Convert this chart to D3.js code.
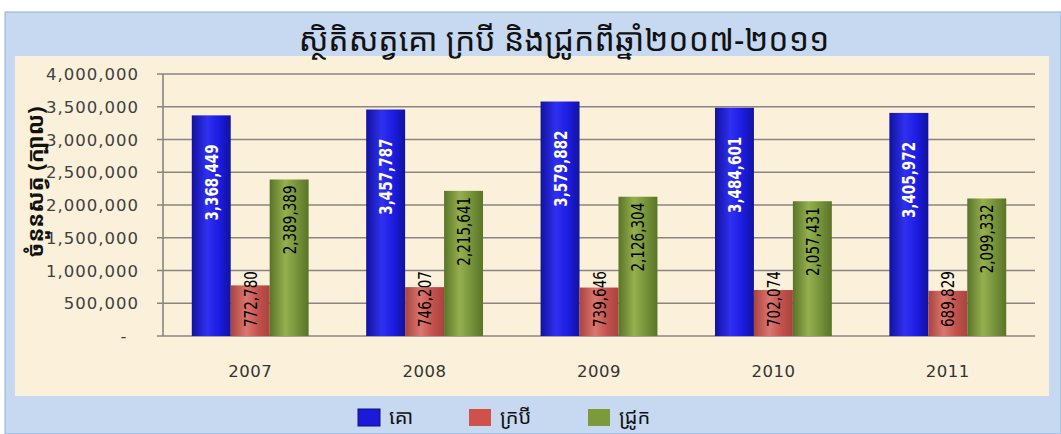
<!DOCTYPE html>
<html><head><meta charset="utf-8">
<script src="https://cdn.jsdelivr.net/npm/d3@7"></script>
<style>
html,body{margin:0;padding:0;background:#fff;}
svg{display:block;}
</style></head>
<body>
<svg id="chart" width="1061" height="434"></svg>
<script>
const title = "ស្ថិតិសត្វគោ ក្របី និងជ្រូកពីឆ្នាំ២០០៧-២០១១";
const yTitle = "ចំនួនសត្វ (ក្បាល)";
const years = ["2007","2008","2009","2010","2011"];
const seriesNames = ["គោ","ក្របី","ជ្រូក"];
const cattle = [3368449, 3457787, 3579882, 3484601, 3405972];
const buffalo = [772780, 746207, 739646, 702074, 689829];
const pigs = [2389389, 2215641, 2126304, 2057431, 2099332];
const yTicks = [0, 500000, 1000000, 1500000, 2000000, 2500000, 3000000, 3500000, 4000000];

const seriesValues = [cattle, buffalo, pigs];
const colors = [
  {edge:"#12129e", mid:"#3030f2", base:"#1c1ce2", legend:"#1a1ad8", text:"#ffffff"},
  {edge:"#a9433f", mid:"#dc7670", base:"#c4524d", legend:"#d0504a", text:"#000000"},
  {edge:"#5a7428", mid:"#94b04e", base:"#76933a", legend:"#7c9a3a", text:"#000000"}
];

const svg = d3.select("#chart");
const defs = svg.append("defs");
colors.forEach((c,i)=>{
  const g = defs.append("linearGradient").attr("id","grad"+i).attr("x1","0").attr("x2","1").attr("y1","0").attr("y2","0");
  g.append("stop").attr("offset","0%").attr("stop-color",c.edge);
  g.append("stop").attr("offset","40%").attr("stop-color",c.mid);
  g.append("stop").attr("offset","70%").attr("stop-color",c.base);
  g.append("stop").attr("offset","100%").attr("stop-color",c.edge);
});

// outer background
svg.append("rect").attr("x",5).attr("y",12).attr("width",1056).attr("height",422)
  .attr("fill","#c6d9f1").attr("stroke","#8eb0dc").attr("stroke-width",1);
// plot (cream) area
svg.append("rect").attr("x",15).attr("y",56).attr("width",1034).attr("height",340)
  .attr("fill","#fbf1da");

const x0 = d3.scaleBand().domain(years).range([163,1035]).paddingInner(0.33).paddingOuter(0.165);
const x1 = d3.scaleBand().domain(d3.range(3)).range([0,x0.bandwidth()]);
const y = d3.scaleLinear().domain([0,4000000]).range([336,74]);

// gridlines
svg.append("g").selectAll("line").data(yTicks).join("line")
  .attr("x1",157).attr("x2",1035)
  .attr("y1",d=>y(d)).attr("y2",d=>y(d))
  .attr("stroke","#8a8580").attr("stroke-width",1.6);
svg.append("line").attr("x1",163).attr("x2",163).attr("y1",y(4000000)).attr("y2",y(0))
  .attr("stroke","#8a8580").attr("stroke-width",1.6);

// y tick labels
const fmt = d3.format(",");
svg.append("g").selectAll("text").data(yTicks).join("text")
  .attr("x",d=> d===0 ? 124 : 139).attr("y",d=>y(d)+6)
  .attr("text-anchor", d=> d===0 ? "middle" : "end")
  .attr("font-family","DejaVu Sans, Verdana, sans-serif").attr("font-size",16.5)
  .attr("letter-spacing",1)
  .attr("fill","#404040")
  .text(d=> d===0 ? "-" : fmt(d));

// bars
const groups = svg.append("g").selectAll("g").data(years).join("g")
  .attr("transform",d=>`translate(${x0(d)},0)`);
groups.each(function(yr, yi){
  const g = d3.select(this);
  seriesValues.forEach((vals, si)=>{
    const v = vals[yi];
    g.append("rect").attr("x",x1(si)).attr("width",x1.bandwidth())
      .attr("y",y(v)).attr("height",y(0)-y(v))
      .attr("fill",`url(#grad${si})`);
  });
  seriesValues.forEach((vals, si)=>{
    const v = vals[yi];
    const cx = x1(si)+x1.bandwidth()/2;
    let ty, anchor;
    if (si===0){ ty = y(v)+29; anchor="end"; }
    else if (si===2){ ty = y(v)+6; anchor="end"; }
    else { ty = y(0)-9; anchor="start"; }
    g.append("text")
      .attr("transform",`translate(${cx+6.5},${ty}) rotate(-90) scale(0.86,1)`)
      .attr("text-anchor",anchor)
      .attr("font-family","DejaVu Sans Condensed, DejaVu Sans, sans-serif")
      .attr("font-weight", si===0 ? "bold" : "normal")
      .attr("font-stretch","condensed")
      .attr("font-size",17.5)
      .attr("fill",colors[si].text)
      .text(fmt(v));
  });
});

// x labels
svg.append("g").selectAll("text").data(years).join("text")
  .attr("x",d=>x0(d)+x0.bandwidth()/2).attr("y",377)
  .attr("text-anchor","middle")
  .attr("font-family","DejaVu Sans, Verdana, sans-serif").attr("font-size",16.5)
  .attr("letter-spacing",0.5)
  .attr("fill","#333")
  .text(d=>d);

// title
svg.append("text").attr("x",564).attr("y",51).attr("text-anchor","middle")
  .attr("font-family","Khmer OS, Noto Sans Khmer, Noto Serif Khmer, sans-serif")
  .attr("font-size",32).attr("fill","#111")
  .text(title);

// y title
svg.append("text").attr("transform","translate(43,182) rotate(-90)")
  .attr("text-anchor","middle")
  .attr("font-family","Khmer OS, Noto Sans Khmer, sans-serif")
  .attr("font-size",22).attr("font-weight","bold").attr("fill","#111")
  .text(yTitle);

// legend
const legX = [358, 469, 588];
const leg = svg.append("g").selectAll("g").data(seriesNames).join("g")
  .attr("transform",(d,i)=>`translate(${legX[i]},409)`);
leg.append("rect").attr("width",22).attr("height",17)
  .attr("fill",(d,i)=>colors[i].legend).attr("stroke",(d,i)=> i===0 ? "#10107a" : "none");
leg.append("text").attr("x",31).attr("y",15)
  .attr("font-family","Khmer OS, Noto Sans Khmer, sans-serif").attr("font-size",20).attr("fill","#111")
  .text(d=>d);
</script>
</body></html>
